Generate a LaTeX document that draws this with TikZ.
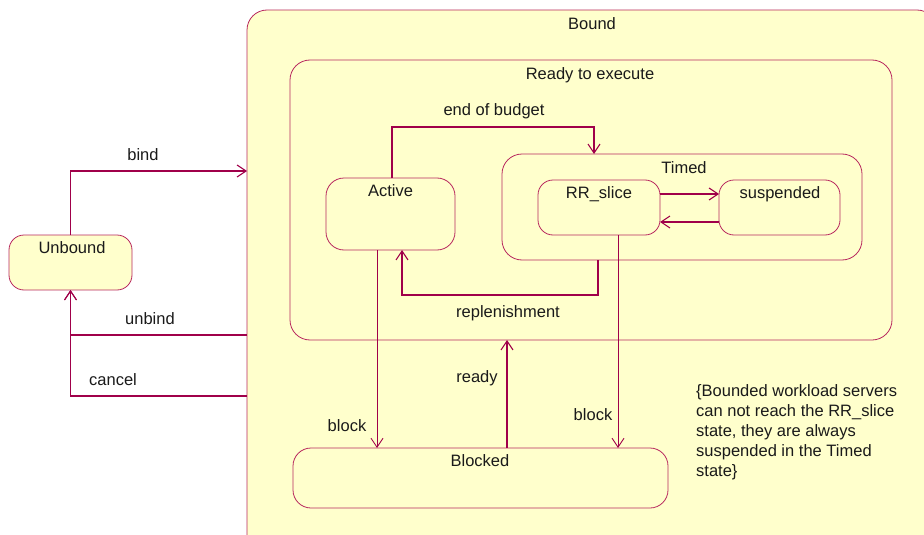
\documentclass[tikz,border=0pt]{standalone}
\usepackage{fontspec}
\setmainfont{Liberation Sans}
\usetikzlibrary{arrows.meta}
\definecolor{wire}{HTML}{A0004A}
\definecolor{edge}{HTML}{B8285E}
\definecolor{paper}{HTML}{FFFFCC}
\definecolor{ink}{HTML}{1A1A1A}
\begin{document}
\begin{tikzpicture}[x=1pt,y=-1pt,
  font=\fontsize{16.5}{20}\selectfont, text=ink,
  state/.style={draw=edge, line width=0.8pt, fill=paper, rounded corners=#1,
    inner sep=0pt, outer sep=0pt},
  state/.default=15pt,
  title/.style={anchor=north, inner sep=0pt},
  lbl/.style={inner sep=0pt},
  arr/.style={draw=wire, line width=1.4pt, -{Straight Barb[length=9pt,width=12pt,line width=1.1pt]}},
  thinarr/.style={draw=wire, line width=0.9pt, -{Straight Barb[length=9pt,width=12pt,line width=0.9pt]}}
]
\useasboundingbox (0,0) rectangle (924,535);
\clip (0,0) rectangle (924,535);

% composite and simple states
\node[state=20pt, minimum width=690pt, minimum height=550pt] (bound) at (592,285) {};
\node[title] at (592,17) {Bound};

\node[state=20pt, minimum width=602pt, minimum height=280pt] (ready) at (591,200) {};
\node[title] at (590,67) {Ready to execute};

\node[state=18pt, minimum width=129pt, minimum height=72pt] (active) at (390.5,214) {};
\node[title] at (390.5,184) {Active};

\node[state=20pt, minimum width=360pt, minimum height=106pt] (timed) at (682,207) {};
\node[title] at (684,161) {Timed};

\node[state, minimum width=122pt, minimum height=55pt] (rr) at (599,207.5) {};
\node[title] at (599,186) {RR\_slice};

\node[state, minimum width=121pt, minimum height=55pt] (susp) at (779.5,207.5) {};
\node[title] at (780,186) {suspended};

\node[state=18pt, minimum width=375pt, minimum height=60pt] (blocked) at (480.5,478) {};
\node[title] at (480,454) {Blocked};

\node[state, minimum width=123pt, minimum height=55pt] (unbound) at (70.5,262.5) {};
\node[title] at (72,241) {Unbound};

% routing points for the connectors
\coordinate (bindY) at (0,171);
\coordinate (unbindY) at (0,335);
\coordinate (cancelY) at (0,396);
\coordinate (eobTop) at (594,127);
\coordinate (replR) at (598,295);
\coordinate (replL) at (402,295);
\coordinate (blkL) at (377,0);
\coordinate (rdyX) at (507,0);
\coordinate (blkR) at (618,0);
\coordinate (toSusp) at (0,194);
\coordinate (toRR) at (0,222);

% transitions
\draw[arr] (unbound.north) |- (bound.west |- bindY);
\draw[arr] (bound.west |- unbindY) -| (unbound.south);
\draw[arr] (bound.west |- cancelY) -| (unbound.south);

\draw[arr] ([xshift=1.5pt]active.north) |- (eobTop) -- (eobTop |- timed.north);
\draw[arr] (replR |- timed.south) -- (replR) -- (replL) -- (replL |- active.south);

\draw[arr] (rr.east |- toSusp) -- (susp.west |- toSusp);
\draw[arr] (susp.west |- toRR) -- (rr.east |- toRR);

\draw[thinarr] (blkL |- active.south) -- (blkL |- blocked.north);
\draw[arr] (rdyX |- blocked.north) -- (rdyX |- ready.south);
\draw[thinarr] (blkR |- rr.south) -- (blkR |- blocked.north);

% transition labels
\node[lbl] (lbind) at (143,155) {bind};
\node[lbl] (lunbind) at (150,319) {unbind};
\node[lbl] (lcancel) at (113,380) {cancel};
\node[lbl] (leob) at (494,111) {end of budget};
\node[lbl] (lrepl) at (508,313) {replenishment};
\node[lbl] (lblk1) at (347,426) {block};
\node[lbl] (lready) at (477,378) {ready};
\node[lbl] (lblk2) at (593,415) {block};

% constraint note
\node[anchor=north west, align=left, inner sep=0pt] (note) at (696,384)
  {\{Bounded workload servers\\can not reach the RR\_slice\\state, they are always\\suspended in the Timed\\state\}};
\end{tikzpicture}
\end{document}
